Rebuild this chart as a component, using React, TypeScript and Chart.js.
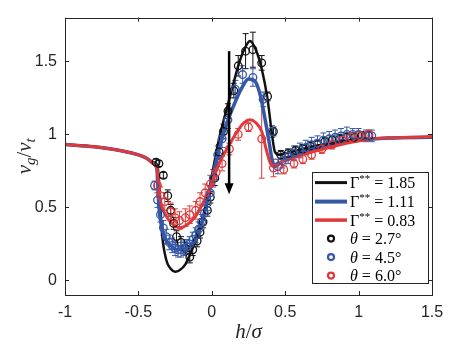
import React, { useEffect, useRef } from "react";
import { Chart, registerables } from "chart.js";
Chart.register(...registerables);

// ---- axes ----
const X_TICKS = [-1, -0.5, 0, 0.5, 1, 1.5];
const Y_TICKS = [0, 0.5, 1, 1.5];
const X_MIN = -1, X_MAX = 1.5;
const Y_MIN = -0.1, Y_MAX = 1.8;

// ---- model curves ----
const G185_X = [-1, -0.8, -0.6, -0.5, -0.45, -0.4, -0.37, -0.355, -0.34, -0.31, -0.28, -0.25, -0.22, -0.18, -0.14, -0.09, -0.05, -0.01, 0.045, 0.1, 0.14, 0.18, 0.22, 0.26, 0.3, 0.34, 0.38, 0.41, 0.43, 0.46, 0.5, 0.6, 0.7, 0.8, 0.9, 1.0, 1.2, 1.5];
const G185_Y = [0.93, 0.915, 0.885, 0.86, 0.84, 0.81, 0.785, 0.6, 0.33, 0.14, 0.08, 0.06, 0.07, 0.11, 0.2, 0.32, 0.47, 0.66, 0.95, 1.17, 1.32, 1.47, 1.58, 1.64, 1.58, 1.45, 1.24, 1.0, 0.88, 0.86, 0.87, 0.895, 0.92, 0.94, 0.955, 0.97, 0.975, 0.98];

const G111_X = [-1, -0.8, -0.6, -0.5, -0.45, -0.4, -0.375, -0.36, -0.33, -0.28, -0.23, -0.17, -0.11, -0.07, -0.03, 0.0, 0.05, 0.1, 0.15, 0.2, 0.25, 0.29, 0.33, 0.36, 0.39, 0.41, 0.43, 0.46, 0.5, 0.6, 0.7, 0.8, 0.9, 1.0, 1.2, 1.5];
const G111_Y = [0.93, 0.915, 0.885, 0.86, 0.84, 0.805, 0.77, 0.5, 0.32, 0.24, 0.21, 0.22, 0.29, 0.39, 0.55, 0.68, 0.9, 1.07, 1.2, 1.31, 1.38, 1.37, 1.27, 1.12, 0.95, 0.83, 0.78, 0.8, 0.83, 0.87, 0.9, 0.925, 0.945, 0.96, 0.975, 0.98];

const G083_X = [-1, -0.8, -0.69, -0.6, -0.5, -0.45, -0.4, -0.375, -0.35, -0.31, -0.26, -0.22, -0.17, -0.11, -0.06, -0.01, 0.05, 0.12, 0.18, 0.22, 0.26, 0.3, 0.34, 0.37, 0.4, 0.42, 0.45, 0.5, 0.6, 0.7, 0.8, 0.9, 1.0, 1.1, 1.3, 1.5];
const G083_Y = [0.93, 0.915, 0.9, 0.885, 0.86, 0.84, 0.8, 0.77, 0.55, 0.44, 0.38, 0.36, 0.38, 0.44, 0.53, 0.64, 0.8, 0.93, 1.03, 1.08, 1.1, 1.08, 1.02, 0.9, 0.8, 0.78, 0.8, 0.82, 0.855, 0.885, 0.91, 0.935, 0.955, 0.97, 0.978, 0.985];

// ---- measurements ----
const T27_X = [-0.38, -0.36, -0.33, -0.3, -0.28, -0.26, -0.24, -0.21, -0.18, -0.15, -0.13, -0.1, -0.08, -0.06, -0.03, -0.01, 0.02, 0.05, 0.08, 0.11, 0.15, 0.18, 0.23, 0.28, 0.34, 0.38, 0.42, 0.47, 0.52, 0.57, 0.62, 0.67, 0.72, 0.77, 0.82, 0.87, 0.92, 0.97, 1.02, 1.07];
const T27_Y = [0.81, 0.8, 0.72, 0.58, 0.48, 0.39, 0.3, 0.26, 0.22, 0.16, 0.21, 0.27, 0.33, 0.4, 0.48, 0.57, 0.7, 0.88, 1.02, 1.16, 1.3, 1.47, 1.57, 1.58, 1.49, 1.26, 1.02, 0.86, 0.87, 0.89, 0.9, 0.92, 0.93, 0.95, 0.96, 0.97, 0.98, 0.98, 0.99, 0.99];
const T27_E = [0.02, 0.02, 0.02, 0.04, 0.04, 0.04, 0.04, 0.04, 0.04, 0.04, 0.04, 0.04, 0.04, 0.04, 0.04, 0.04, 0.05, 0.05, 0.05, 0.05, 0.05, 0.07, 0.12, 0.12, 0.05, 0.03, 0.03, 0.03, 0.03, 0.03, 0.03, 0.03, 0.03, 0.03, 0.03, 0.03, 0.03, 0.03, 0.03, 0.03];

const T45_X = [-0.39, -0.37, -0.35, -0.33, -0.31, -0.29, -0.27, -0.25, -0.23, -0.21, -0.19, -0.17, -0.15, -0.13, -0.11, -0.09, -0.07, -0.05, -0.03, -0.01, 0.01, 0.04, 0.07, 0.11, 0.16, 0.21, 0.28, 0.35, 0.41, 0.45, 0.48, 0.52, 0.56, 0.6, 0.64, 0.68, 0.72, 0.76, 0.8, 0.84, 0.88, 0.92, 0.96, 1.0, 1.05, 1.09];
const T45_Y = [0.65, 0.55, 0.45, 0.36, 0.3, 0.26, 0.24, 0.22, 0.21, 0.21, 0.22, 0.23, 0.25, 0.28, 0.31, 0.35, 0.4, 0.46, 0.53, 0.6, 0.7, 0.86, 0.97, 1.1, 1.31, 1.41, 1.39, 1.24, 1.02, 0.78, 0.82, 0.85, 0.87, 0.89, 0.91, 0.93, 0.94, 0.96, 0.97, 0.98, 0.99, 1.0, 1.0, 1.0, 0.99, 0.99];
const T45_E = [0.03, 0.05, 0.05, 0.05, 0.05, 0.05, 0.05, 0.05, 0.05, 0.05, 0.05, 0.05, 0.05, 0.05, 0.05, 0.05, 0.05, 0.05, 0.05, 0.05, 0.06, 0.06, 0.06, 0.06, 0.06, 0.06, 0.06, 0.05, 0.04, 0.05, 0.05, 0.05, 0.05, 0.05, 0.05, 0.05, 0.05, 0.05, 0.05, 0.05, 0.05, 0.05, 0.04, 0.04, 0.04, 0.04];

const T60_X = [-0.37, -0.35, -0.32, -0.28, -0.25, -0.22, -0.18, -0.15, -0.11, -0.08, -0.045, -0.01, 0.03, 0.07, 0.12, 0.18, 0.25, 0.34, 0.42, 0.49, 0.56, 0.62, 0.68, 0.75, 0.82, 0.89, 0.95, 1.01, 1.07];
const T60_Y = [0.65, 0.58, 0.54, 0.47, 0.43, 0.41, 0.43, 0.45, 0.48, 0.54, 0.6, 0.66, 0.74, 0.8, 0.9, 1.0, 1.05, 0.97, 0.77, 0.76, 0.8, 0.83, 0.86, 0.9, 0.93, 0.96, 0.98, 0.99, 1.0];
const T60_E = [0.03, 0.06, 0.06, 0.06, 0.06, 0.06, 0.06, 0.06, 0.06, 0.06, 0.06, 0.06, 0.05, 0.05, 0.04, 0.04, 0.03, 0.27, 0.06, 0.03, 0.03, 0.03, 0.03, 0.03, 0.03, 0.03, 0.03, 0.03, 0.03];

// ---- arrow annotation (data units) ----
const ARROW_X = 0.118;
const ARROW_Y_TOP = 1.57;
const ARROW_Y_TIP = 0.59;

const BLACK = "#111111";
const BLUE = "#3457a8";
const RED = "#e0393b";
const AXIS = "#262626";
const SERIF = "'Liberation Serif', 'Times New Roman', serif";

const pts = (xs: number[], ys: number[]) => xs.map((x, i) => ({ x, y: ys[i] }));

type Piece = { t: string; f: string; dy?: number };
function drawPieces(ctx: CanvasRenderingContext2D, pieces: Piece[], x: number, y: number, align: "left" | "center") {
  let total = 0;
  const widths = pieces.map((p) => {
    ctx.font = p.f;
    const w = ctx.measureText(p.t).width;
    total += w;
    return w;
  });
  let cx = align === "center" ? x - total / 2 : x;
  ctx.textAlign = "left";
  ctx.textBaseline = "alphabetic";
  pieces.forEach((p, i) => {
    ctx.font = p.f;
    ctx.fillText(p.t, cx, y + (p.dy || 0));
    cx += widths[i];
  });
}

const framePlugin = {
  id: "frame",
  beforeDatasetsDraw(chart: any) {
    const { ctx, chartArea: a, scales } = chart;
    const xs = scales.x, ys = scales.y;
    const sets = [
      { X: T27_X, Y: T27_Y, E: T27_E, c: BLACK },
      { X: T45_X, Y: T45_Y, E: T45_E, c: BLUE },
      { X: T60_X, Y: T60_Y, E: T60_E, c: RED },
    ];
    ctx.save();
    ctx.beginPath();
    ctx.rect(a.left, a.top, a.right - a.left, a.bottom - a.top);
    ctx.clip();
    ctx.lineWidth = 1;
    sets.forEach((s) => {
      ctx.strokeStyle = s.c;
      s.X.forEach((xv, i) => {
        const px = xs.getPixelForValue(xv);
        const p1 = ys.getPixelForValue(s.Y[i] + s.E[i]);
        const p2 = ys.getPixelForValue(s.Y[i] - s.E[i]);
        ctx.beginPath();
        ctx.moveTo(px, p1);
        ctx.lineTo(px, p2);
        ctx.moveTo(px - 3, p1);
        ctx.lineTo(px + 3, p1);
        ctx.moveTo(px - 3, p2);
        ctx.lineTo(px + 3, p2);
        ctx.stroke();
      });
    });
    ctx.restore();
  },
  afterDraw(chart: any) {
    const { ctx, chartArea: a, scales } = chart;
    const xs = scales.x, ys = scales.y;
    ctx.save();
    // arrow
    const ax = xs.getPixelForValue(ARROW_X);
    const at = ys.getPixelForValue(ARROW_Y_TOP);
    const ab = ys.getPixelForValue(ARROW_Y_TIP);
    ctx.strokeStyle = "#000";
    ctx.fillStyle = "#000";
    ctx.lineWidth = 2.5;
    ctx.beginPath();
    ctx.moveTo(ax, at);
    ctx.lineTo(ax, ab - 8);
    ctx.stroke();
    ctx.beginPath();
    ctx.moveTo(ax - 4.5, ab - 11);
    ctx.lineTo(ax + 4.5, ab - 11);
    ctx.lineTo(ax, ab);
    ctx.closePath();
    ctx.fill();

    // axes box and inward ticks
    ctx.strokeStyle = AXIS;
    ctx.lineWidth = 1;
    ctx.strokeRect(Math.round(a.left) + 0.5, Math.round(a.top) + 0.5, Math.round(a.right - a.left), Math.round(a.bottom - a.top));
    const tl = 4;
    ctx.beginPath();
    X_TICKS.forEach((v) => {
      const px = Math.round(xs.getPixelForValue(v)) + 0.5;
      ctx.moveTo(px, a.bottom);
      ctx.lineTo(px, a.bottom - tl);
      ctx.moveTo(px, a.top);
      ctx.lineTo(px, a.top + tl);
    });
    Y_TICKS.forEach((v) => {
      const py = Math.round(ys.getPixelForValue(v)) + 0.5;
      ctx.moveTo(a.left, py);
      ctx.lineTo(a.left + tl, py);
      ctx.moveTo(a.right, py);
      ctx.lineTo(a.right - tl, py);
    });
    ctx.stroke();

    // legend box
    const lx = a.left + 247, lr = a.right - 4, lt = a.top + 154, lb = a.bottom - 12;
    ctx.fillStyle = "#fff";
    ctx.fillRect(lx, lt, lr - lx, lb - lt);
    ctx.strokeStyle = AXIS;
    ctx.lineWidth = 1;
    ctx.strokeRect(Math.round(lx) + 0.5, Math.round(lt) + 0.5, Math.round(lr - lx), Math.round(lb - lt));
    const rowY = [11, 30, 48.5, 67, 85.5, 104];
    const lineEntries = [
      { c: BLACK, w: 3, v: "1.85" },
      { c: BLUE, w: 4, v: "1.11" },
      { c: RED, w: 3.5, v: "0.83" },
    ];
    const f16 = `16px ${SERIF}`;
    const fi16 = `italic 16px ${SERIF}`;
    lineEntries.forEach((e, i) => {
      const y = lt + rowY[i];
      ctx.strokeStyle = e.c;
      ctx.lineWidth = e.w;
      ctx.beginPath();
      ctx.moveTo(lx + 3, y);
      ctx.lineTo(lx + 35, y);
      ctx.stroke();
      ctx.fillStyle = "#000";
      drawPieces(ctx, [
        { t: "Γ", f: f16 },
        { t: "**", f: `11px ${SERIF}`, dy: -6 },
        { t: " = " + e.v, f: f16 },
      ], lx + 38, y + 5.5, "left");
    });
    const markerEntries = [
      { c: BLACK, v: "2.7°" },
      { c: BLUE, v: "4.5°" },
      { c: RED, v: "6.0°" },
    ];
    markerEntries.forEach((e, i) => {
      const y = lt + rowY[i + 3];
      ctx.strokeStyle = e.c;
      ctx.lineWidth = 2.2;
      ctx.beginPath();
      ctx.arc(lx + 19, y, 3, 0, Math.PI * 2);
      ctx.stroke();
      ctx.fillStyle = "#000";
      drawPieces(ctx, [
        { t: "θ", f: fi16 },
        { t: " = " + e.v, f: f16 },
      ], lx + 38, y + 5.5, "left");
    });

    // axis titles
    ctx.fillStyle = AXIS;
    const fT = `italic 21px ${SERIF}`;
    const fTu = `21px ${SERIF}`;
    const fS = `italic 15px ${SERIF}`;
    drawPieces(ctx, [
      { t: "h", f: fT },
      { t: "/", f: fTu },
      { t: "σ", f: fT },
    ], (a.left + a.right) / 2, 338, "center");
    ctx.save();
    ctx.translate(31, (a.top + a.bottom) / 2);
    ctx.rotate(-Math.PI / 2);
    drawPieces(ctx, [
      { t: "v", f: fT },
      { t: "g", f: fS, dy: 4 },
      { t: "/", f: fTu },
      { t: "v", f: fT },
      { t: "t", f: fS, dy: 4 },
    ], 0, 0, "center");
    ctx.restore();
    ctx.restore();
  },
};

export default function App() {
  const ref = useRef<HTMLCanvasElement | null>(null);
  useEffect(() => {
    if (!ref.current) return;
    const marker = (data: any, c: string) => ({
      type: "scatter" as const,
      data,
      showLine: false,
      pointStyle: "circle",
      pointRadius: 3.8,
      pointBorderWidth: 1.3,
      pointBorderColor: c,
      pointBackgroundColor: "rgba(0,0,0,0)",
      borderColor: c,
      backgroundColor: "rgba(0,0,0,0)",
    });
    const curve = (data: any, c: string, w: number, order: number) => ({
      type: "line" as const,
      data,
      borderColor: c,
      borderWidth: w,
      pointRadius: 0,
      fill: false,
      cubicInterpolationMode: "monotone" as const,
      order,
    });
    const fmt = (v: any) => String(Number(v));
    const chart = new Chart(ref.current, {
      type: "scatter",
      data: {
        datasets: [
          { ...curve(pts(G185_X, G185_Y), BLACK, 2.5, 5), label: "Γ** = 1.85" },
          { ...curve(pts(G111_X, G111_Y), BLUE, 3.5, 4), label: "Γ** = 1.11" },
          { ...curve(pts(G083_X, G083_Y), RED, 3, 3), label: "Γ** = 0.83" },
          { ...marker(pts(T27_X, T27_Y), BLACK), order: 2, label: "θ = 2.7°" },
          { ...marker(pts(T45_X, T45_Y), BLUE), order: 1, label: "θ = 4.5°" },
          { ...marker(pts(T60_X, T60_Y), RED), order: 0, label: "θ = 6.0°" },
        ] as any,
      },
      options: {
        responsive: false,
        animation: false,
        devicePixelRatio: 1,
        layout: { padding: { left: 0, right: 28, top: 15, bottom: 0 } },
        plugins: { legend: { display: false }, tooltip: { enabled: false } },
        scales: {
          x: {
            type: "linear",
            min: X_MIN,
            max: X_MAX,
            afterBuildTicks: (s: any) => { s.ticks = X_TICKS.map((v) => ({ value: v })); },
            afterFit: (s: any) => { s.height = 53; },
            grid: { display: false, drawTicks: false, tickLength: 0 },
            border: { display: false },
            ticks: { color: AXIS, padding: 8, callback: fmt, font: { family: "'Liberation Sans', Arial, sans-serif", size: 16 }, maxRotation: 0, autoSkip: false },
          },
          y: {
            type: "linear",
            min: Y_MIN,
            max: Y_MAX,
            afterBuildTicks: (s: any) => { s.ticks = Y_TICKS.map((v) => ({ value: v })); },
            afterFit: (s: any) => { s.width = 65; },
            grid: { display: false, drawTicks: false, tickLength: 0 },
            border: { display: false },
            ticks: { color: AXIS, padding: 8, callback: fmt, font: { family: "'Liberation Sans', Arial, sans-serif", size: 16 }, autoSkip: false },
          },
        },
      },
      plugins: [framePlugin],
    });
    return () => chart.destroy();
  }, []);
  return (
    <div style={{ position: "absolute", left: 0, top: 0, width: 460, height: 348, background: "#fff" }}>
      <canvas ref={ref} width={460} height={348} style={{ display: "block" }} />
    </div>
  );
}
